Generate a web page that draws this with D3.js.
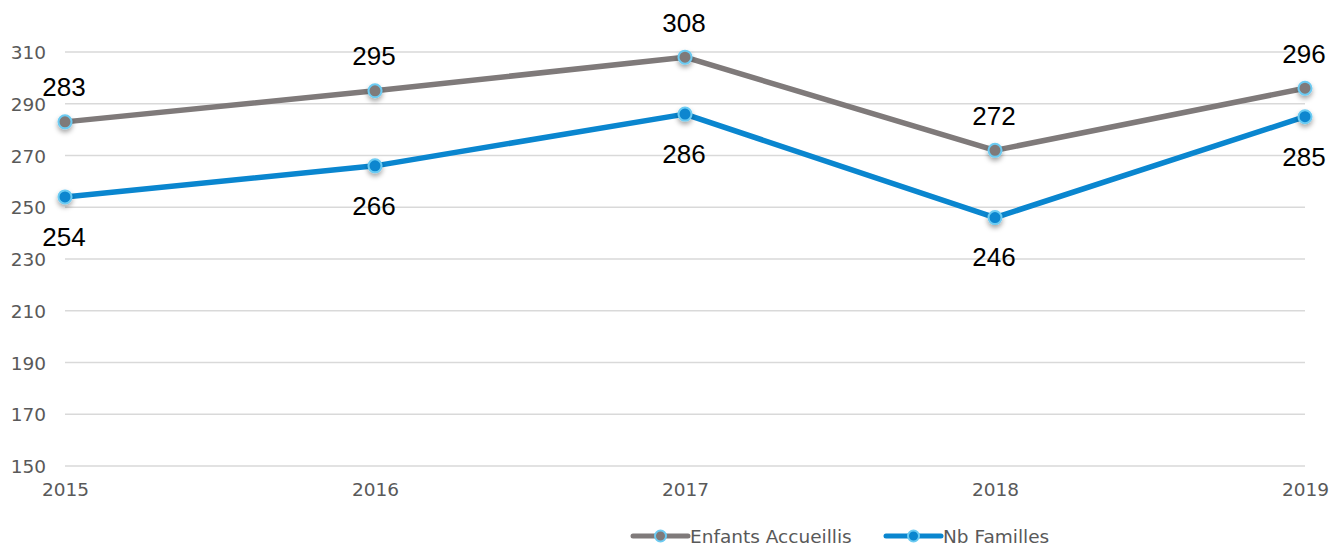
<!DOCTYPE html>
<html>
<head>
<meta charset="utf-8">
<script src="https://cdn.jsdelivr.net/npm/d3@7"></script>
<style>
  body { margin: 0; background: #fff; }
  svg { display: block; }
  .axis text { font-family: 'DejaVu Sans', Verdana, sans-serif; font-size: 18.5px; fill: #595959; }
  .lbl { font-family: 'Liberation Sans', Arial, sans-serif; font-size: 26px; fill: #000; }
</style>
</head>
<body>
<div id="chart"></div>
<script>
var years = ['2015', '2016', '2017', '2018', '2019'];
var enfants = [283, 295, 308, 272, 296];
var familles = [254, 266, 286, 246, 285];
var yTicks = [150, 170, 190, 210, 230, 250, 270, 290, 310];
var seriesNames = ['Enfants Accueillis', 'Nb Familles'];

var W = 1332, H = 546;
var svg = d3.select('#chart').append('svg').attr('width', W).attr('height', H);

var defs = svg.append('defs');
var f = defs.append('filter').attr('id', 'shadow').attr('x', '-100%').attr('y', '-100%').attr('width', '300%').attr('height', '300%');
f.append('feDropShadow').attr('dx', 0).attr('dy', 3).attr('stdDeviation', 2.5).attr('flood-color', '#000').attr('flood-opacity', 0.35);

var x = d3.scalePoint().domain(years).range([65, 1305]);
var y = d3.scaleLinear().domain([150, 330]).range([466, 0.25]);

// Grid
svg.append('g')
    .attr('class', 'grid')
    .selectAll('line')
    .data(yTicks)
    .enter()
    .append('line')
    .attr('x1', 65).attr('x2', 1305)
    .attr('y1', function(d) { return y(d); })
    .attr('y2', function(d) { return y(d); })
    .attr('stroke', '#d9d9d9')
    .attr('stroke-width', 1.5);

// Y axis
var yAxis = svg.append('g')
    .attr('class', 'axis')
    .attr('transform', 'translate(46,0)')
    .call(d3.axisLeft(y).tickValues(yTicks).tickSize(0).tickPadding(0));
yAxis.select('.domain').remove();
yAxis.selectAll('text').attr('dy', '0.36em');

// X axis
var xAxis = svg.append('g')
    .attr('class', 'axis')
    .attr('transform', 'translate(0,483)')
    .call(d3.axisBottom(x).tickSize(0).tickPadding(0));
xAxis.select('.domain').remove();
xAxis.selectAll('text').attr('dy', '0.71em');

var series = [
    { name: seriesNames[0], values: enfants, color: '#7f7a7a', above: true },
    { name: seriesNames[1], values: familles, color: '#0a86cf', above: false }
];

var line = d3.line()
    .x(function(d, i) { return x(years[i]); })
    .y(function(d) { return y(d); });

series.forEach(function(s) {
    svg.append('path')
        .datum(s.values)
        .attr('fill', 'none')
        .attr('stroke', s.color)
        .attr('stroke-width', 5.5)
        .attr('stroke-linejoin', 'round')
        .attr('d', line);

    svg.append('g').selectAll('circle')
        .data(s.values)
        .enter()
        .append('circle')
        .attr('cx', function(d, i) { return x(years[i]); })
        .attr('cy', function(d) { return y(d); })
        .attr('r', 6.5)
        .attr('fill', s.color)
        .attr('stroke', '#6ccbf2')
        .attr('stroke-width', 2)
        .attr('filter', 'url(#shadow)');

    svg.append('g').selectAll('text')
        .data(s.values)
        .enter()
        .append('text')
        .attr('class', 'lbl')
        .attr('text-anchor', 'middle')
        .attr('x', function(d, i) { return x(years[i]) - 1; })
        .attr('y', function(d) { return y(d) + (s.above ? -35 : 39.5); })
        .attr('dy', '0.36em')
        .text(function(d) { return d; });
});

// Legend
var legendX = [633, 886];
series.forEach(function(s, i) {
    var g = svg.append('g').attr('transform', 'translate(' + legendX[i] + ',536)');
    g.append('line')
        .attr('x1', 0).attr('x2', 55)
        .attr('stroke', s.color).attr('stroke-width', 5).attr('stroke-linecap', 'round');
    g.append('circle')
        .attr('cx', 27.5).attr('r', 5.5)
        .attr('fill', s.color).attr('stroke', '#6ccbf2').attr('stroke-width', 2);
    g.append('text')
        .attr('x', 57).attr('dy', '0.36em')
        .style('font-family', "'DejaVu Sans', Verdana, sans-serif")
        .style('font-size', '18.5px')
        .style('fill', '#595959')
        .text(s.name);
});
</script>
</body>
</html>
